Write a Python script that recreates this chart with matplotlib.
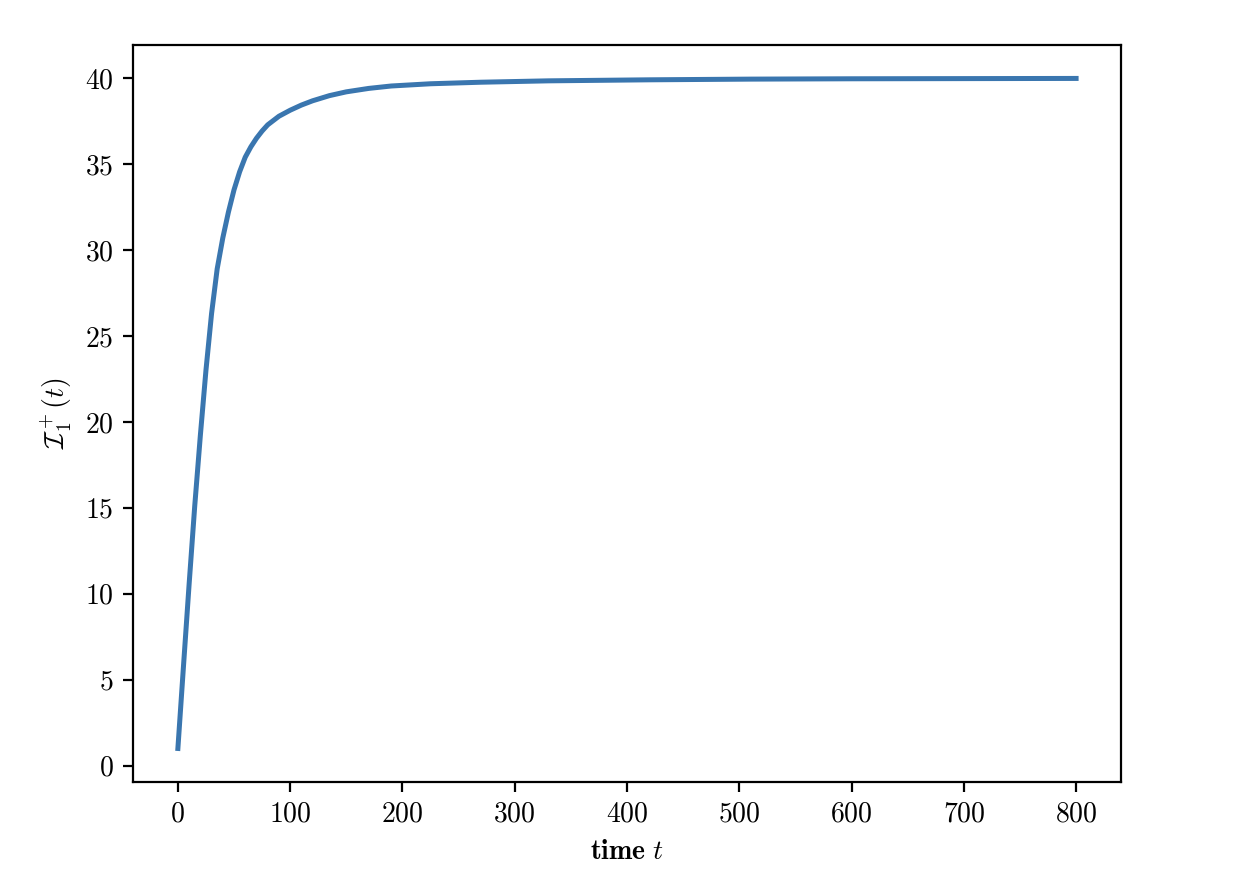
import matplotlib
matplotlib.use("Agg")
import matplotlib.pyplot as plt

# values
time_t = [0, 5, 10, 15, 20, 25, 30, 35, 40, 45, 50, 55, 60, 65, 70, 75, 80, 90,
          100, 110, 120, 135, 150, 170, 190, 225, 270, 330, 420, 510, 600, 700, 800]
infected = [1.0, 5.8, 10.55, 15.1, 19.2, 23.0, 26.3, 28.9, 30.7, 32.2, 33.5, 34.55,
            35.4, 36.0, 36.5, 36.92, 37.28, 37.78, 38.13, 38.43, 38.68, 38.98,
            39.2, 39.4, 39.54, 39.67, 39.76, 39.84, 39.9, 39.94, 39.96, 39.97, 39.98]

plt.rcParams["font.family"] = "serif"
plt.rcParams["font.serif"] = ["cmr10"]
plt.rcParams["mathtext.fontset"] = "cm"
plt.rcParams["axes.formatter.use_mathtext"] = True

fig = plt.figure(figsize=(6.29, 4.44), dpi=200)
ax = fig.add_axes([0.1057, 0.1194, 0.7854, 0.830])
ax.plot(time_t, infected, color="#3a76af", linewidth=1.8)
ax.set_xlabel(r"$\mathbf{time}\ t$")
ax.set_ylabel(r"$\mathcal{I}_1^+(t)$")
ax.set_xticks([0, 100, 200, 300, 400, 500, 600, 700, 800])
ax.set_yticks([0, 5, 10, 15, 20, 25, 30, 35, 40])

fig.savefig("out.png", dpi=200)
